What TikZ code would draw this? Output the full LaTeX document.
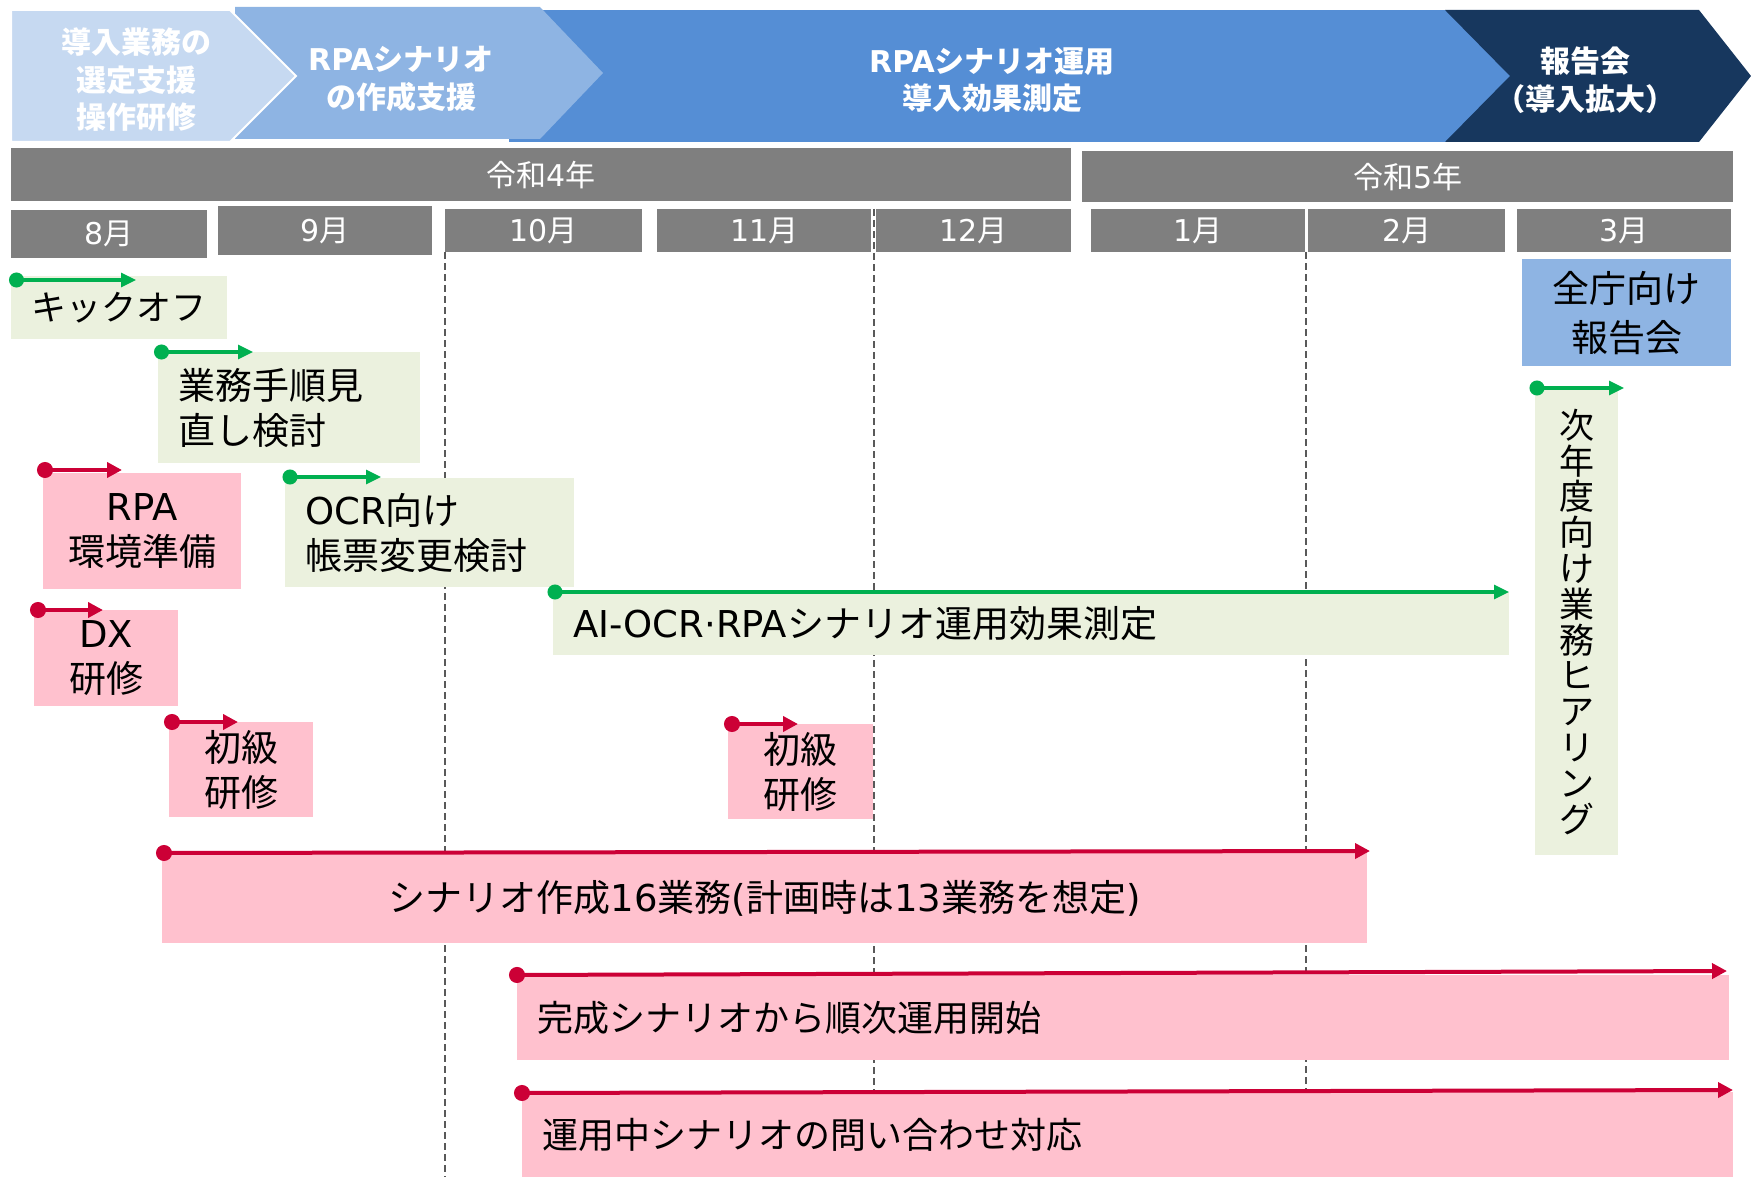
\documentclass[tikz,border=0pt]{standalone}
\usepackage{fontspec}
\setmainfont{Noto Sans CJK JP}
\newfontfamily\latinfont{DejaVu Sans}
\newcommand{\latn}[1]{{\latinfont #1}}
\usetikzlibrary{arrows.meta}
\definecolor{chevA}{HTML}{C6D9F1}
\definecolor{chevB}{HTML}{8EB4E3}
\definecolor{chevC}{HTML}{558ED5}
\definecolor{chevD}{HTML}{17375E}
\definecolor{barGray}{HTML}{7F7F7F}
\definecolor{boxGreen}{HTML}{EBF1DE}
\definecolor{boxPink}{HTML}{FFC1CE}
\definecolor{boxBlue}{HTML}{8EB4E3}
\definecolor{arrGreen}{HTML}{00B050}
\definecolor{arrRed}{HTML}{CC0036}
\definecolor{dashGray}{HTML}{595959}
\tikzset{
  bannertxt/.style={text=white, align=center, font=\fontsize{30}{37.5}\selectfont\bfseries, inner sep=0pt},
  graybar/.style={fill=barGray, anchor=north west, inner sep=0pt, text=white, font=\fontsize{30}{34}\selectfont},
  taskbox/.style={anchor=north west, inner sep=0pt, font=\fontsize{37}{45}\selectfont, text=black},
  lefttxt/.style={inner xsep=20pt, align=left},
  midtxt/.style={align=center},
  gfill/.style={fill=boxGreen},
  pfill/.style={fill=boxPink},
  garr/.style={draw=arrGreen, line width=3.2pt, {Circle[length=15pt,width=15pt]}-{Triangle[length=15pt,width=14pt]}},
  rarr/.style={draw=arrRed, line width=4pt, {Circle[length=16pt,width=16pt]}-{Triangle[length=15pt,width=15pt]}},
  gridline/.style={draw=dashGray, line width=1.2pt, dash pattern=on 7pt off 4pt}
}
\begin{document}
\begin{tikzpicture}[x=1pt,y=-1pt]
\useasboundingbox (0,0) rectangle (1751,1177);

% ---------- banner chevrons ----------
\fill[chevC] (509,10) rectangle (1520,142);
\fill[chevD] (1445,10) -- (1699,10) -- (1751,76) -- (1699,142) -- (1445,142) -- (1510,76) -- cycle;
\fill[chevB] (235,7) -- (540,7) -- (603,73) -- (540,139) -- (235,139) -- cycle;
\filldraw[fill=chevA, draw=white, line width=2pt] (11,10) -- (230,10) -- (296,76) -- (230,142) -- (11,142) -- cycle;

\node[bannertxt] (ban1) at (136,80) {導入業務の\\選定支援\\操作研修};
\node[bannertxt] (ban2) at (401,79) {\latn{RPA}シナリオ\\の作成支援};
\node[bannertxt] (ban3) at (992,80) {\latn{RPA}シナリオ運用\\導入効果測定};
\node[bannertxt] (ban4) at (1585,80) {報告会\\（導入拡大）};

% ---------- year bars ----------
\node[graybar, minimum width=1060pt, minimum height=53pt] (yr4) at (11,148) {令和\latn{4}年};
\node[graybar, minimum width=651pt, minimum height=51pt] (yr5) at (1082,151) {令和\latn{5}年};

% ---------- grid lines ----------
\coordinate (g1t) at (445,252);  \coordinate (g1b) at (445,1177);
\coordinate (g2t) at (874,209);  \coordinate (g2b) at (874,1177);
\coordinate (g3t) at (1306,252); \coordinate (g3b) at (1306,1177);
\draw[gridline] (g1t) -- (g1b);
\draw[gridline] (g2t) -- (g2b);
\draw[gridline] (g3t) -- (g3b);

% ---------- month boxes ----------
\node[graybar, minimum width=196pt, minimum height=48pt] (m8)  at (11,210)  {\latn{8}月};
\node[graybar, minimum width=214pt, minimum height=49pt] (m9)  at (218,206) {\latn{9}月};
\node[graybar, minimum width=197pt, minimum height=43pt] (m10) at (445,209) {\latn{10}月};
\node[graybar, minimum width=214pt, minimum height=43pt] (m11) at (657,209) {\latn{11}月};
\node[graybar, minimum width=195pt, minimum height=43pt] (m12) at (876,209) {\latn{12}月};
\node[graybar, minimum width=214pt, minimum height=43pt] (m1)  at (1091,209) {\latn{1}月};
\node[graybar, minimum width=197pt, minimum height=43pt] (m2)  at (1308,209) {\latn{2}月};
\node[graybar, minimum width=214pt, minimum height=43pt] (m3)  at (1517,209) {\latn{3}月};

% ---------- task boxes ----------
\node[taskbox, gfill, lefttxt, text width=176pt, minimum height=63pt, font=\fontsize{35}{44}\selectfont] (kick) at (11,276) {キックオフ};
\node[taskbox, gfill, lefttxt, text width=222pt, minimum height=111pt] (gyomu) at (158,352) {業務手順見\\直し検討};
\node[taskbox, pfill, midtxt, text width=198pt, minimum height=116pt] (rpa) at (43,473) {\latn{RPA}\\環境準備};
\node[taskbox, gfill, lefttxt, text width=249pt, minimum height=109pt] (ocr) at (285,478) {\latn{OCR}向け\\帳票変更検討};
\node[taskbox, pfill, midtxt, text width=144pt, minimum height=96pt] (dx) at (34,610) {\latn{DX}\\研修};
\node[taskbox, gfill, lefttxt, text width=916pt, minimum height=63pt] (aiocr) at (553,592) {\latn{AI-OCR·RPA}シナリオ運用効果測定};
\node[taskbox, fill=boxBlue, midtxt, text width=209pt, minimum height=107pt, font=\fontsize{37}{49}\selectfont] (zencho) at (1522,259) {全庁向け\\報告会};
\node[taskbox, gfill, midtxt, text width=83pt, minimum height=467pt, font=\fontsize{35}{35.8}\selectfont] (hear) at (1535,388) {次\\年\\度\\向\\け\\業\\務\\ヒ\\ア\\リ\\ン\\グ};
\node[taskbox, pfill, midtxt, text width=144pt, minimum height=95pt] (sho1) at (169,722) {初級\\研修};
\node[taskbox, pfill, midtxt, text width=145pt, minimum height=95pt] (sho2) at (728,724) {初級\\研修};
\node[taskbox, pfill, midtxt, text width=1205pt, minimum height=90pt] (scen) at (162,853) {シナリオ作成\latn{16}業務\latn{(}計画時は\latn{13}業務を想定\latn{)}};
\node[taskbox, pfill, lefttxt, text width=1172pt, minimum height=85pt, font=\fontsize{36}{44}\selectfont] (kansei) at (517,975) {完成シナリオから順次運用開始};
\node[taskbox, pfill, lefttxt, text width=1171pt, minimum height=85pt, font=\fontsize{36}{44}\selectfont] (unyo) at (522,1092) {運用中シナリオの問い合わせ対応};

% ---------- arrows ----------
\coordinate (kickS) at (9,280);      \coordinate (kickE) at (136,280);
\coordinate (gyoS) at (154,352);     \coordinate (gyoE) at (253,352);
\coordinate (rpaS) at (37,470);      \coordinate (rpaE) at (122,470);
\coordinate (ocrS) at (282.5,477);   \coordinate (ocrE) at (381,477);
\coordinate (dxS) at (30,610);       \coordinate (dxE) at (103,610);
\coordinate (aiS) at (547.5,592);    \coordinate (aiE) at (1509,592);
\coordinate (sh1S) at (164,722);     \coordinate (sh1E) at (238,722);
\coordinate (sh2S) at (724,724);     \coordinate (sh2E) at (798,724);
\coordinate (scS) at (156,853);      \coordinate (scE) at (1370,851);
\coordinate (kaS) at (509,975);      \coordinate (kaE) at (1727,971);
\coordinate (unS) at (514,1093);     \coordinate (unE) at (1733,1090);
\coordinate (heS) at (1529.5,388);   \coordinate (heE) at (1624,388);

\draw[garr] (kickS) -- (kickE);
\draw[garr] (gyoS) -- (gyoE);
\draw[rarr] (rpaS) -- (rpaE);
\draw[garr] (ocrS) -- (ocrE);
\draw[rarr] (dxS) -- (dxE);
\draw[garr] (aiS) -- (aiE);
\draw[rarr] (sh1S) -- (sh1E);
\draw[rarr] (sh2S) -- (sh2E);
\draw[rarr] (scS) -- (scE);
\draw[rarr] (kaS) -- (kaE);
\draw[rarr] (unS) -- (unE);
\draw[garr] (heS) -- (heE);
\end{tikzpicture}
\end{document}
